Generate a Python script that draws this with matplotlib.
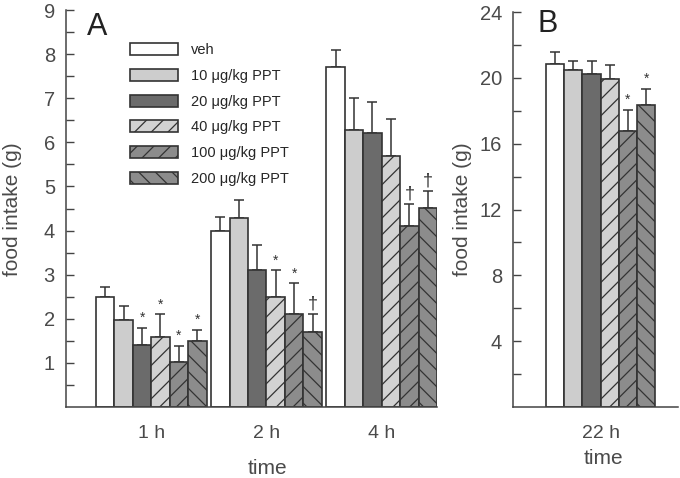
import matplotlib
matplotlib.use("Agg")
import matplotlib.pyplot as plt
import numpy as np

plt.rcParams['font.family'] = ['Liberation Sans', 'DejaVu Sans']
plt.rcParams['hatch.linewidth'] = 0.9
plt.rcParams['hatch.color'] = '#3a3a3a'

groups = ["veh", "10 \u03bcg/kg PPT", "20 \u03bcg/kg PPT", "40 \u03bcg/kg PPT",
          "100 \u03bcg/kg PPT", "200 \u03bcg/kg PPT"]
times_a = ["1 h", "2 h", "4 h"]
times_b = ["22 h"]

# food intake means (rows: groups, cols: times)
mean_a = [
    [2.50, 4.00, 7.70],
    [1.98, 4.29, 6.29],
    [1.40, 3.10, 6.22],
    [1.59, 2.50, 5.70],
    [1.01, 2.10, 4.11],
    [1.50, 1.70, 4.52],
]
err_a = [
    [0.21, 0.30, 0.39],
    [0.31, 0.40, 0.72],
    [0.39, 0.58, 0.69],
    [0.51, 0.60, 0.83],
    [0.38, 0.70, 0.49],
    [0.25, 0.40, 0.38],
]
sig_a = [
    ["", "", ""],
    ["", "", ""],
    ["*", "", ""],
    ["*", "*", ""],
    ["*", "*", "\u2020"],
    ["*", "\u2020", "\u2020"],
]
mean_b = [20.85, 20.45, 20.24, 19.90, 16.80, 18.36]
err_b = [0.75, 0.60, 0.81, 0.90, 1.26, 0.97]
sig_b = ["", "", "", "", "*", "*"]

faces = ['white', '#cdcdcd', '#6b6b6b', '#d2d2d2', '#8c8c8c', '#8c8c8c']
hatches = [None, None, None, '//', '//', '\\\\']
edge = '#333333'
txtc = '#4a4a4a'

fig = plt.figure(figsize=(6.8, 4.78), dpi=100)
axA = fig.add_axes([66/680, 1-407/478, (437-66)/680, (407-10)/478])
axB = fig.add_axes([513/680, 1-407/478, (678-513)/680, (407-12)/478])

w = 0.16

def draw(ax, means, errs, sigs, ncols):
    handles = []
    for i in range(6):
        xs = np.arange(ncols) - 0.48 + w * (i + 0.5)
        b = ax.bar(xs, means[i], width=w, color=faces[i], edgecolor=edge,
                   linewidth=1.2, hatch=hatches[i], label=groups[i], zorder=2)
        ax.errorbar(xs, means[i], yerr=[np.zeros(ncols), errs[i]], fmt='none',
                    ecolor='#333333', elinewidth=1.1, capsize=3.5, capthick=1.1,
                    zorder=1)
        handles.append(b)
        for j in range(ncols):
            s = sigs[i][j]
            if s:
                top = means[i][j] + errs[i][j]
                ax.annotate(s, (xs[j], top), xytext=(0, 2 if s == '*' else 1),
                            textcoords='offset points', ha='center', va='bottom',
                            fontsize=10 if s == '*' else 13, color='#333333')
    return handles

handles = draw(axA, mean_a, err_a, sig_a, 3)
draw(axB, [[m] for m in mean_b], [[e] for e in err_b], [[s] for s in sig_b], 1)

for ax in (axA, axB):
    for sp in ('top', 'right'):
        ax.spines[sp].set_visible(False)
    for sp in ('left', 'bottom'):
        ax.spines[sp].set_color('#444444')
        ax.spines[sp].set_linewidth(1.1)
    ax.tick_params(axis='y', which='both', direction='in', length=6, width=1.0,
                   color='#444444', labelsize=14.5, labelcolor=txtc, pad=8)
    ax.tick_params(axis='x', length=0, labelsize=14, labelcolor=txtc, pad=13)

axA.set_xlim(-0.74, 2.48)
axA.set_ylim(0, 9)
axA.set_xticks(range(3))
axA.set_xticklabels(times_a)
axA.set_yticks(range(1, 10))
axA.set_yticks(np.arange(0.5, 9, 1.0), minor=True)

axB.set_xlim(-0.77, 0.68)
axB.set_ylim(0, 24)
axB.set_xticks([0])
axB.set_xticklabels(times_b)
axB.set_yticks(range(4, 25, 4))
axB.set_yticks(range(2, 24, 4), minor=True)

# axis titles
fig.text(13/680, 1-209/478, 'food intake (g)', rotation=90, fontsize=15,
         color=txtc, ha='center', va='center')
fig.text(463/680, 1-209/478, 'food intake (g)', rotation=90, fontsize=15,
         color=txtc, ha='center', va='center')
fig.text(267/680, 1-469/478, 'time', fontsize=15, color=txtc, ha='center', va='center')
fig.text(603/680, 1-458/478, 'time', fontsize=15, color=txtc, ha='center', va='center')

fig.text(87/680, 1-27/478, 'A', fontsize=22, color='#222222', va='center', ha='left')
fig.text(537/680, 1-24/478, 'B', fontsize=22, color='#222222', va='center', ha='left')

leg = axA.legend(handles=handles, labels=groups, loc='upper left',
                 bbox_to_anchor=(130/680, 1-43/478), bbox_transform=fig.transFigure,
                 frameon=False, borderpad=0, borderaxespad=0, fontsize=10.5,
                 handlelength=3.3, handleheight=0.9, labelspacing=0.8,
                 handletextpad=0.85)
for t in leg.get_texts():
    t.set_color('#262626')

fig.savefig('out.png', dpi=100)
